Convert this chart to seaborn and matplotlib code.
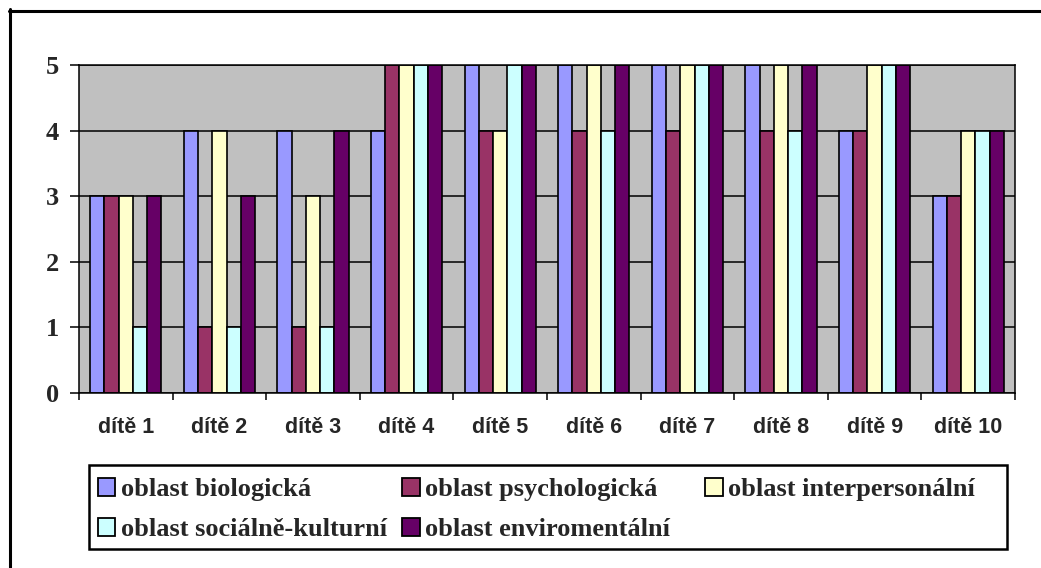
import pandas as pd
import matplotlib
matplotlib.use('Agg')
import matplotlib.pyplot as plt
import seaborn as sns
from matplotlib.patches import Rectangle
from matplotlib.lines import Line2D

# data
children = ['dítě 1', 'dítě 2', 'dítě 3', 'dítě 4', 'dítě 5',
            'dítě 6', 'dítě 7', 'dítě 8', 'dítě 9', 'dítě 10']
areas = ['oblast biologická', 'oblast psychologická', 'oblast interpersonální',
         'oblast sociálně-kulturní', 'oblast enviromentální']
biologicka = [3, 4, 4, 4, 5, 5, 5, 5, 4, 3]
psychologicka = [3, 1, 1, 5, 4, 4, 4, 4, 4, 3]
interpersonalni = [3, 4, 3, 5, 4, 5, 5, 5, 5, 4]
socialne_kulturni = [1, 1, 1, 5, 5, 4, 5, 4, 5, 4]
enviromentalni = [3, 3, 4, 5, 5, 5, 5, 5, 5, 4]
colors = ['#9999FF', '#993366', '#FFFFCC', '#CCFFFF', '#660066']

series = [biologicka, psychologicka, interpersonalni, socialne_kulturni, enviromentalni]
rows = []
for area, vals in zip(areas, series):
    for child, v in zip(children, vals):
        rows.append({'child': child, 'area': area, 'value': v})
df = pd.DataFrame(rows)

sns.set_style('white')
plt.rcParams['font.family'] = ['Liberation Serif', 'DejaVu Serif']

W, H = 1041, 568
fig = plt.figure(figsize=(W / 100, H / 100), dpi=100)
ax = fig.add_axes([79/W, 1-393/H, (1015-79)/W, (393-65)/H])
ax.set_facecolor('#C0C0C0')

sns.barplot(data=df, x='child', y='value', hue='area', hue_order=areas,
            order=children, palette=dict(zip(areas, colors)), width=0.76,
            edgecolor='black', linewidth=1.2, saturation=1, ax=ax, legend=True)

ax.set_ylim(0, 5)
ax.set_xlim(-0.5, 9.5)
ax.set_yticks(range(6))
ax.yaxis.grid(True, color='black', linewidth=1.1)
ax.set_axisbelow(True)
for s in ax.spines.values():
    s.set_color('black')
    s.set_linewidth(1.1)
    s.set_visible(True)

ax.set_xlabel('')
ax.set_ylabel('')
ax.tick_params(axis='y', left=True, length=6.5, width=1.1, color='black', pad=8)
for lab in ax.get_yticklabels():
    lab.set_fontfamily('Liberation Serif')
    lab.set_fontweight('bold')
    lab.set_fontsize(19)
ax.set_xticks([i + 0.5 for i in range(-1, 10)], minor=True)
ax.tick_params(axis='x', which='minor', bottom=True, length=5, width=1.1, color='black')
ax.tick_params(axis='x', which='major', bottom=False, length=0, pad=17)
for lab in ax.get_xticklabels():
    lab.set_fontfamily('Liberation Sans')
    lab.set_fontweight('bold')
    lab.set_fontsize(15.5)

# legend at the bottom: three equal-width columns, filled row by row
handles, labels = ax.get_legend_handles_labels()
ax.get_legend().remove()
columns = [[0, 3], [1, 4], [2]]
col_x = [97.5, 402, 705]
for idx, x0 in zip(columns, col_x):
    leg = fig.legend([handles[i] for i in idx], [labels[i] for i in idx],
                     loc='upper left', ncol=1,
                     bbox_to_anchor=(x0/W, 1-478/H), frameon=False,
                     prop={'family': 'Liberation Serif', 'weight': 'bold', 'size': 19},
                     handlelength=0.68, handleheight=0.65, handletextpad=0.2,
                     labelspacing=0.65, borderpad=0, borderaxespad=0)
    for h in leg.legend_handles:
        h.set_edgecolor('black')
        h.set_linewidth(1.3)

# legend box
fig.patches.append(Rectangle((89/W, 1-549/H), (1007-89)/W, (549-465)/H,
                             transform=fig.transFigure, fill=False,
                             edgecolor='black', linewidth=1.8))

# outer chart frame (top and left edges only)
fig.lines.append(Line2D([9/W, 1], [1-10.5/H, 1-10.5/H], transform=fig.transFigure,
                        color='black', linewidth=2.2))
fig.lines.append(Line2D([9.5/W, 9.5/W], [1-9/H, 0], transform=fig.transFigure,
                        color='black', linewidth=2.2))

fig.savefig('out.png', dpi=100)
